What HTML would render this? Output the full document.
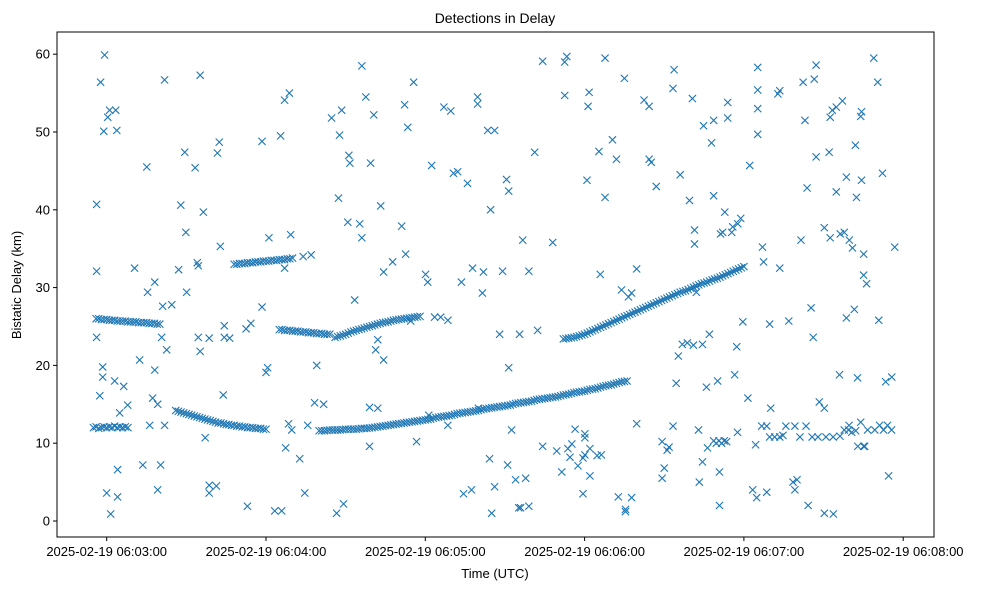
<!DOCTYPE html>
<html><head><meta charset="utf-8"><style>
body{margin:0;background:#fff;}
svg{display:block;font-family:"Liberation Sans","DejaVu Sans",sans-serif;}
</style></head><body>
<svg id="chart" width="986" height="590">
<rect width="986" height="590" fill="#fff"/>
<g id="marks"></g>
<g id="axes"></g>
<rect x="57" y="32" width="877" height="505" fill="none" stroke="#000" stroke-width="1"/>
<text x="495" y="23" text-anchor="middle" font-size="14">Detections in Delay</text>
<text x="495" y="578" text-anchor="middle" font-size="13">Time (UTC)</text>
<text transform="translate(21,285) rotate(-90)" text-anchor="middle" font-size="13">Bistatic Delay (km)</text>
</svg>
<script>
// seconds after 06:02:00
const xTickValues=[60,120,180,240,300,360];
const xTickLabels=["2025-02-19 06:03:00","2025-02-19 06:04:00","2025-02-19 06:05:00","2025-02-19 06:06:00","2025-02-19 06:07:00","2025-02-19 06:08:00"];
const yTickValues=[0,10,20,30,40,50,60];
const yTickLabels=["0","10","20","30","40","50","60"];

const trackATimes=[56,57,58,59,60,61,62,63,64,65,66,67,68,69,70,71,72,73,74,75,76,77,78,79,80];
const trackADelays=[26,26,25.9,25.9,25.9,25.8,25.8,25.8,25.7,25.7,25.7,25.7,25.6,25.6,25.6,25.6,25.5,25.5,25.5,25.5,25.4,25.4,25.4,25.3,25.3];
const trackBTimes=[55,56,57,58,59,60,61,62,63,64,65,66,67,68];
const trackBDelays=[12,12.1,11.9,12,12.1,12,12.1,12,12.2,12,12.1,12,12.1,12];
const trackCTimes=[86,87,88,89,90,91,92,93,94,95,96,97,98,99,100,101,102,103,104,105,106,107,108,109,110,111,112,113,114,115,116,117,118,119,120];
const trackCDelays=[14.2,14.1,14.0,13.9,13.8,13.7,13.6,13.5,13.4,13.3,13.2,13.1,13.0,12.9,12.8,12.7,12.6,12.6,12.5,12.4,12.4,12.3,12.3,12.2,12.2,12.1,12.1,12.0,12.0,12.0,11.9,11.9,11.9,11.8,11.8];
const trackDTimes=[108,109,110,111,112,113,114,115,116,117,118,119,120,121,122,123,124,125,126,127,128,129,130,134,137];
const trackDDelays=[33.0,33.0,33.1,33.1,33.1,33.2,33.2,33.2,33.3,33.3,33.3,33.4,33.4,33.4,33.5,33.5,33.5,33.6,33.6,33.6,33.7,33.7,33.8,34.0,34.2];
const trackETimes=[125,126,127,128,129,130,131,132,133,134,135,136,137,138,139,140,141,142,143,144];
const trackEDelays=[24.6,24.6,24.5,24.5,24.5,24.4,24.4,24.4,24.3,24.3,24.3,24.2,24.2,24.2,24.1,24.1,24.1,24.0,24.0,24.0];
const trackFTimes=[146,147,148,149,150,151,152,153,154,155,156,157,158,159,160,161,162,163,164,165,166,167,168,169,170,171,172,173,174,175,176,177,178];
const trackFDelays=[23.6,23.7,23.8,23.9,24.0,24.15,24.3,24.4,24.5,24.6,24.7,24.8,24.9,25.0,25.1,25.2,25.3,25.4,25.5,25.55,25.6,25.7,25.8,25.85,25.9,25.95,26.0,26.05,26.1,26.15,26.2,26.25,26.3];
const trackGTimes=[140,142,144,146,148,150,152,154,156,158,160,162,164,166,168,170,172,174,176,178,180,182,184,186,188,190,192,194,196,198,200,202,204,206,208,210,212,214,216,218,220,222,224,226,228,230,232,234,236,238,240,242,244,246,248,250,252,254,256];
const trackGDelays=[11.6,11.6,11.7,11.7,11.7,11.8,11.8,11.8,11.9,11.9,12.0,12.1,12.2,12.3,12.4,12.5,12.6,12.7,12.8,12.9,13.0,13.1,13.3,13.4,13.5,13.6,13.8,13.9,14.0,14.1,14.2,14.4,14.5,14.6,14.7,14.8,14.9,15.1,15.2,15.3,15.4,15.6,15.7,15.8,15.9,16.0,16.2,16.3,16.5,16.6,16.7,16.9,17.0,17.2,17.4,17.5,17.7,17.9,18.0];
const trackG2Times=[141,143,145,147,149,151,153,155,157,159,161,163,165,167,169,171,173,175,177,179,181,183,185,187,189,191,193,195,197,199,201,203,205,207,209,211,213,215,217,219,221,223,225,227,229,231,233,235,237,239,241,243,245,247,249,251,253,255];
const trackG2Delays=[11.6,11.65,11.7,11.7,11.75,11.8,11.8,11.85,11.9,11.95,12.05,12.15,12.25,12.35,12.45,12.55,12.65,12.75,12.85,12.95,13.05,13.2,13.35,13.45,13.55,13.7,13.85,13.95,14.05,14.15,14.3,14.45,14.55,14.65,14.75,14.85,15.0,15.15,15.25,15.35,15.5,15.65,15.75,15.85,15.95,16.1,16.25,16.4,16.55,16.65,16.8,16.95,17.1,17.3,17.45,17.6,17.8,17.95];
const trackHTimes=[232,234,236,238,240,242,244,246,248,250,252,254,256,258,260,262,264,266,268,270,272,274,276,278,280,282,284,286,288,290,292,294,296,298,300];
const trackHDelays=[23.4,23.5,23.6,23.8,24.0,24.3,24.6,24.9,25.2,25.5,25.8,26.1,26.4,26.7,27.0,27.3,27.6,27.9,28.2,28.5,28.8,29.1,29.4,29.6,29.9,30.2,30.5,30.7,31.0,31.2,31.5,31.8,32.1,32.4,32.7];
const trackH2Times=[233,235,237,239,241,243,245,247,249,251,253,255,257,259,261,263,265,267,269,271,273,275,277,279,281,283,285,287,289,291,293,295,297,299];
const trackH2Delays=[23.45,23.55,23.7,23.9,24.15,24.45,24.75,25.05,25.35,25.65,25.95,26.25,26.55,26.85,27.15,27.45,27.75,28.05,28.35,28.65,28.95,29.25,29.5,29.75,30.05,30.35,30.6,30.85,31.1,31.35,31.65,31.95,32.25,32.55];
const trackITimes=[306.7,308.6,309.7,311.6,313.5,315.8,319.2,321.1,323.4,325.7,327.9,330.9,333.6,336.2,337.8,339.6,340.6,342.1,342.9,344,345.1,346.6,349.3,351.1,352.6,354.1,355.6,288.6,289.6,290.6,291.6,292.6,293.5,297.6];
const trackIDelays=[12.2,12.2,10.8,10.8,10.8,12.2,12.2,10.8,12.2,10.8,10.8,10.8,10.8,10.9,11.7,12.3,11.4,11.6,9.6,12.7,9.6,11.7,11.7,12.3,11.7,12.3,11.7,10.3,10.0,10.3,10.0,10.3,10.2,11.4];
const noiseTimes=[56.2,56.2,56.2,57.7,59.2,58.9,60.4,61.1,63.4,63.8,58.5,58.5,57.4,60,61.5,64.1,64.1,63,64.9,66.4,67.9,70.5,72.4,73.6,75.1,75.4,76.2,77.3,78.1,78.1,79.2,79.2,80.3,80.7,81.1,81.8,81.8,82.6,84.5,87.1,87.9,89.4,89.8,90.1,93.3,94.1,94.5,95.2,94.5,95.2,96.4,97.1,98.6,98.6,98.6,101.3,101.7,102.4,102.8,104.3,104.3,103.9,106.3,113,112.5,114.3,118.5,118.5,121.1,120.6,120,123.3,125.9,125.5,127,128.8,127,129.3,127.4,128.5,129.7,132.7,135.7,134.6,138.3,139.1,141.7,144.7,146.6,148.5,147.7,149.2,147.3,150.8,151.2,151.6,153.4,155.3,156.1,156.1,157.6,159.4,160.6,162.1,161.3,164.3,163.2,159,162.1,159,164.3,167.7,172.2,173.4,174.5,171.1,172.6,175.6,176.7,180.1,180.9,182.4,181.3,187,183.5,185.8,189.6,188.5,190.6,188.5,192.2,193.6,194.4,195.9,197.4,199.7,199.7,197.8,200,201.9,201.5,203.5,204.6,204.2,206.1,206.1,205,209.1,208,210.6,211.4,211.4,212.5,211,214,215.2,215.5,215.9,216.7,217.8,219,219,221.2,222.3,224.2,224.2,228,229.5,231.4,232.5,233.3,232.5,233.7,234.5,235.2,236.4,237.5,239.4,240.1,239.4,240.1,240.9,240.1,242,242,241.3,241.7,245.4,244.7,246.3,245.9,247.7,247.7,250.5,252,252.7,253.9,255,255.4,255.4,256.5,257.7,257.7,259.6,259.6,262.4,264.3,264.3,265.1,267,269.2,269.2,270,271.1,271.8,273.3,273.7,273.3,274.5,275.3,276.8,276,278.7,279.5,280.6,281.4,281.4,281,282.1,282.9,283.2,284.4,284.4,284.8,285.9,286.3,287,288.6,287.8,288.6,290.1,291.2,290.8,290.8,292,292.8,293.9,293.9,295.4,295.8,297.3,296.5,297.7,298.8,299.6,302.2,301.5,304.4,305.2,305.2,305.2,305.2,303.3,304.8,307,307.4,308.6,309.7,310.1,312.8,313.5,313.5,314.7,316.9,318.5,319.2,320,321.5,322.3,323,323.8,324.2,325.3,326.1,326.5,327.2,327.2,328.4,330.3,330.3,330.3,332.1,332.5,332.5,333.3,333.7,334.8,336.3,334.8,336,337.1,337.8,338.6,338.6,339.4,339.7,340.9,341.6,342,342.4,342.8,344,344.3,344.3,345.1,345.1,345.5,346.2,348.9,350.4,350.8,352.2,353.4,354.5,355.7,356.8];
const noiseDelays=[40.7,32.1,23.6,56.4,59.9,50.1,51.9,52.8,52.8,50.2,19.8,18.5,16.1,3.6,0.9,3.1,6.6,18,13.9,17.3,14.9,32.5,20.7,7.2,45.5,29.4,12.3,15.8,30.7,19.4,15,4,7.2,23.6,27.6,56.7,12.3,22,27.8,32.3,40.6,47.4,37.1,29.4,45.4,33.2,32.8,57.3,23.6,21.8,39.7,10.7,23.5,4.6,3.6,4.5,47.3,48.7,35.3,23.6,25.1,16.2,23.5,1.9,24.7,25.4,27.5,48.8,36.4,19.7,19.1,1.3,1.3,49.5,54.1,55,32.5,36.8,9.4,12.5,11.7,8,12.3,3.6,15.2,20,15,51.8,1,52.8,49.6,2.2,41.5,38.4,47,46,28.4,38.2,36.4,58.5,54.5,46,52.2,23.3,22,20.7,40.5,14.6,14.5,9.6,32,33.3,53.5,50.6,25.7,37.9,34.3,56.4,10.2,31.7,30.7,45.7,13.6,53.2,26.2,26.2,52.7,12.3,44.7,25.8,44.9,30.7,3.5,43.4,4,54.5,53.6,32.5,14.5,32,29.3,50.2,40,8,50.2,4.4,1,32.1,24,43.9,42.4,19.7,11.7,7.2,5.3,1.7,24,1.7,36.1,5.5,1.9,32.1,47.4,24.5,9.6,59.1,35.8,9,6.3,59,59.7,54.7,9.3,8.2,9.9,11.8,7.1,8.1,11.2,3.5,10.7,43.8,8.5,5.8,9.3,53.3,55.1,47.5,8.4,8.5,31.7,59.5,41.6,49,46.5,3.1,29.7,56.9,1.2,1.5,28.8,3,29.3,12.5,32.4,54.1,53.3,46.5,46.1,43,10.2,5.5,6.8,9.1,9.5,55.6,58,12.2,17.7,21.2,22.7,44.5,22.9,41.2,54.3,35.6,37.4,22.6,29.4,11.7,5,7.6,22.7,50.8,17.2,9.4,24,51.5,48.6,41.8,18,36.9,6.3,2,37.1,39.7,51.8,53.8,37.1,37.8,22.4,18.8,38.2,38.9,25.6,45.7,15.8,9.8,58.3,55.4,53,49.7,4,3,35.2,33.3,3.7,25.3,14.5,54.9,55.3,32.5,11,25.7,5,4,5.3,36.1,56.4,51.5,42.8,2,27.4,23.6,56.8,58.6,46.8,15.3,14.5,37.7,1,47.4,51.9,36.4,52.8,0.9,53.2,36.9,42.3,18.8,54,37.1,26.1,44.2,11.7,36.1,35.1,27.2,48.3,41.6,18.4,52,52.6,43.8,34.3,31.6,9.6,30.5,59.5,56.4,25.8,44.7,17.9,5.8,18.5,35.2];

const times=[].concat(trackATimes,trackBTimes,trackCTimes,trackDTimes,trackETimes,trackFTimes,trackGTimes,trackG2Times,trackHTimes,trackH2Times,trackITimes,noiseTimes);
const delays=[].concat(trackADelays,trackBDelays,trackCDelays,trackDDelays,trackEDelays,trackFDelays,trackGDelays,trackG2Delays,trackHDelays,trackH2Delays,trackIDelays,noiseDelays);

const L=57,R=934,T=32,B=537;
const tMin=60-(106.7-L)/2.655, tMax=60+(R-106.7)/2.655;
const vMin=-(B-521)/7.78, vMax=(521-T)/7.78;
function xs(t){return L+(t-tMin)/(tMax-tMin)*(R-L);}
function ys(v){return B-(v-vMin)/(vMax-vMin)*(B-T);}
const NS="http://www.w3.org/2000/svg";
const marks=document.getElementById('marks');
for(let i=0;i<times.length;i++){
  const x=xs(times[i]),y=ys(delays[i]),s=3.6;
  const p=document.createElementNS(NS,'path');
  p.setAttribute('d',`M${x-s},${y-s}L${x+s},${y+s}M${x-s},${y+s}L${x+s},${y-s}`);
  p.setAttribute('stroke','#1f77b4');
  p.setAttribute('stroke-width','1.1');
  p.setAttribute('fill','none');
  
  
  marks.appendChild(p);
}
const axes=document.getElementById('axes');
xTickValues.forEach((t,i)=>{
  const x=xs(t);
  const l=document.createElementNS(NS,'line');
  l.setAttribute('x1',x);l.setAttribute('x2',x);l.setAttribute('y1',B);l.setAttribute('y2',B+4);
  l.setAttribute('stroke','#000');
  
  
  axes.appendChild(l);
  const tx=document.createElementNS(NS,'text');
  tx.setAttribute('x',x);tx.setAttribute('y',556);tx.setAttribute('text-anchor','middle');tx.setAttribute('font-size','13');
  tx.textContent=xTickLabels[i];
  
  
  axes.appendChild(tx);
});
yTickValues.forEach((v,i)=>{
  const y=ys(v);
  const l=document.createElementNS(NS,'line');
  l.setAttribute('x1',L-4);l.setAttribute('x2',L);l.setAttribute('y1',y);l.setAttribute('y2',y);
  l.setAttribute('stroke','#000');
  
  
  axes.appendChild(l);
  const tx=document.createElementNS(NS,'text');
  tx.setAttribute('x',L-7);tx.setAttribute('y',y+4.5);tx.setAttribute('text-anchor','end');tx.setAttribute('font-size','13');
  tx.textContent=yTickLabels[i];
  
  
  axes.appendChild(tx);
});
</script>
</body></html>
